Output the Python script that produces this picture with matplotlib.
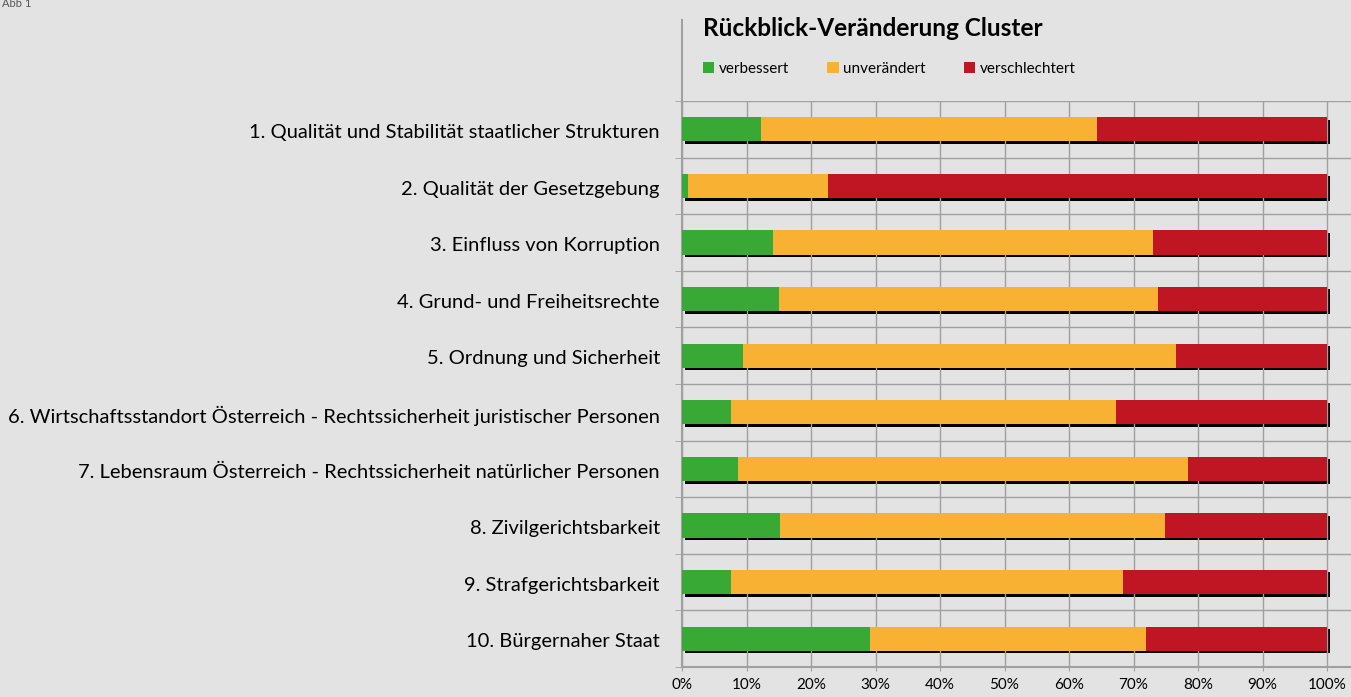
import matplotlib
matplotlib.use("Agg")
import matplotlib.pyplot as plt
import numpy as np
from matplotlib.patches import Patch
from matplotlib.lines import Line2D

categories = [
    "1. Qualität und Stabilität staatlicher Strukturen",
    "2. Qualität der Gesetzgebung",
    "3. Einfluss von Korruption",
    "4. Grund- und Freiheitsrechte",
    "5. Ordnung und Sicherheit",
    "6. Wirtschaftsstandort Österreich - Rechtssicherheit juristischer Personen",
    "7. Lebensraum Österreich - Rechtssicherheit natürlicher Personen",
    "8. Zivilgerichtsbarkeit",
    "9. Strafgerichtsbarkeit",
    "10. Bürgernaher Staat",
]
verbessert = [12.2, 1.0, 14.1, 15.0, 9.5, 7.6, 8.7, 15.2, 7.6, 29.1]
unveraendert = [52.1, 21.6, 58.9, 58.8, 67.1, 59.7, 69.7, 59.7, 60.8, 42.9]
verschlechtert = [100 - a - b for a, b in zip(verbessert, unveraendert)]

series_labels = ["verbessert", "unverändert", "verschlechtert"]
colors = ["#38a935", "#f8b133", "#c01522"]
x_ticks = list(range(0, 101, 10))

plt.rcParams['font.family'] = ['Lato', 'DejaVu Sans']

bg = "#e3e3e3"
fig = plt.figure(figsize=(13.51, 6.97), dpi=100, facecolor=bg)
ax = fig.add_axes([682 / 1351, 30 / 697, 669 / 1351, 566 / 697])
ax.set_facecolor(bg)

y = np.arange(len(categories))
h = 0.43

# shadow behind each bar
ax.barh(y + 0.045, 100, left=0.4, height=h, color="black", zorder=2)

left = np.zeros(len(categories))
for vals, col, lab in zip([verbessert, unveraendert, verschlechtert], colors, series_labels):
    ax.barh(y, vals, left=left, height=h, color=col, label=lab, zorder=3)
    left += np.array(vals)

ax.set_xlim(0, 669 / 6.45)
ax.set_ylim(len(categories) - 0.5, -0.5)
ax.set_xticks(x_ticks)
ax.set_xticklabels([f"{t}%" for t in x_ticks], fontsize=11)
ax.set_yticks(y + 0.03)
ax.set_yticklabels(categories, fontsize=14.5)
ax.set_yticks(np.arange(-0.5, len(categories), 1), minor=True)
ax.tick_params(axis="y", which="major", length=0, pad=16)
ax.tick_params(axis="y", which="minor", length=5, color="#a0a0a0")
ax.tick_params(axis="x", length=3, color="#a0a0a0", pad=5)

ax.set_axisbelow(False)
ax.grid(axis="x", color="#a0a0a0", linewidth=1)
ax.grid(axis="y", which="minor", color="#a0a0a0", linewidth=1)

for s in ["top", "right"]:
    ax.spines[s].set_visible(False)
for s in ["left", "bottom"]:
    ax.spines[s].set_color("#a0a0a0")
    ax.spines[s].set_linewidth(1.5)

# vertical axis line continues up into the title area
fig.add_artist(Line2D([682 / 1351, 682 / 1351], [1 - 20 / 697, 1 - 101 / 697],
                      color="#a0a0a0", linewidth=1.5, transform=fig.transFigure))

fig.text(703 / 1351, 1 - 28 / 697, "Rückblick-Veränderung Cluster",
         fontsize=17.6, fontweight="bold", va="center", ha="left")

handles = [Patch(facecolor=c, label=l) for c, l in zip(colors, series_labels)]
fig.legend(handles=handles, loc="center left", bbox_to_anchor=(689 / 1351, 1 - 69 / 697),
           ncol=3, frameon=False, fontsize=11, handlelength=0.75, handleheight=0.75,
           handletextpad=0.3, columnspacing=2.5)

fig.text(2 / 1351, 1 - 9 / 697, "Abb 1", fontsize=8, color="#555555", va="bottom", ha="left")

fig.savefig("out.png", dpi=100, facecolor=bg)
